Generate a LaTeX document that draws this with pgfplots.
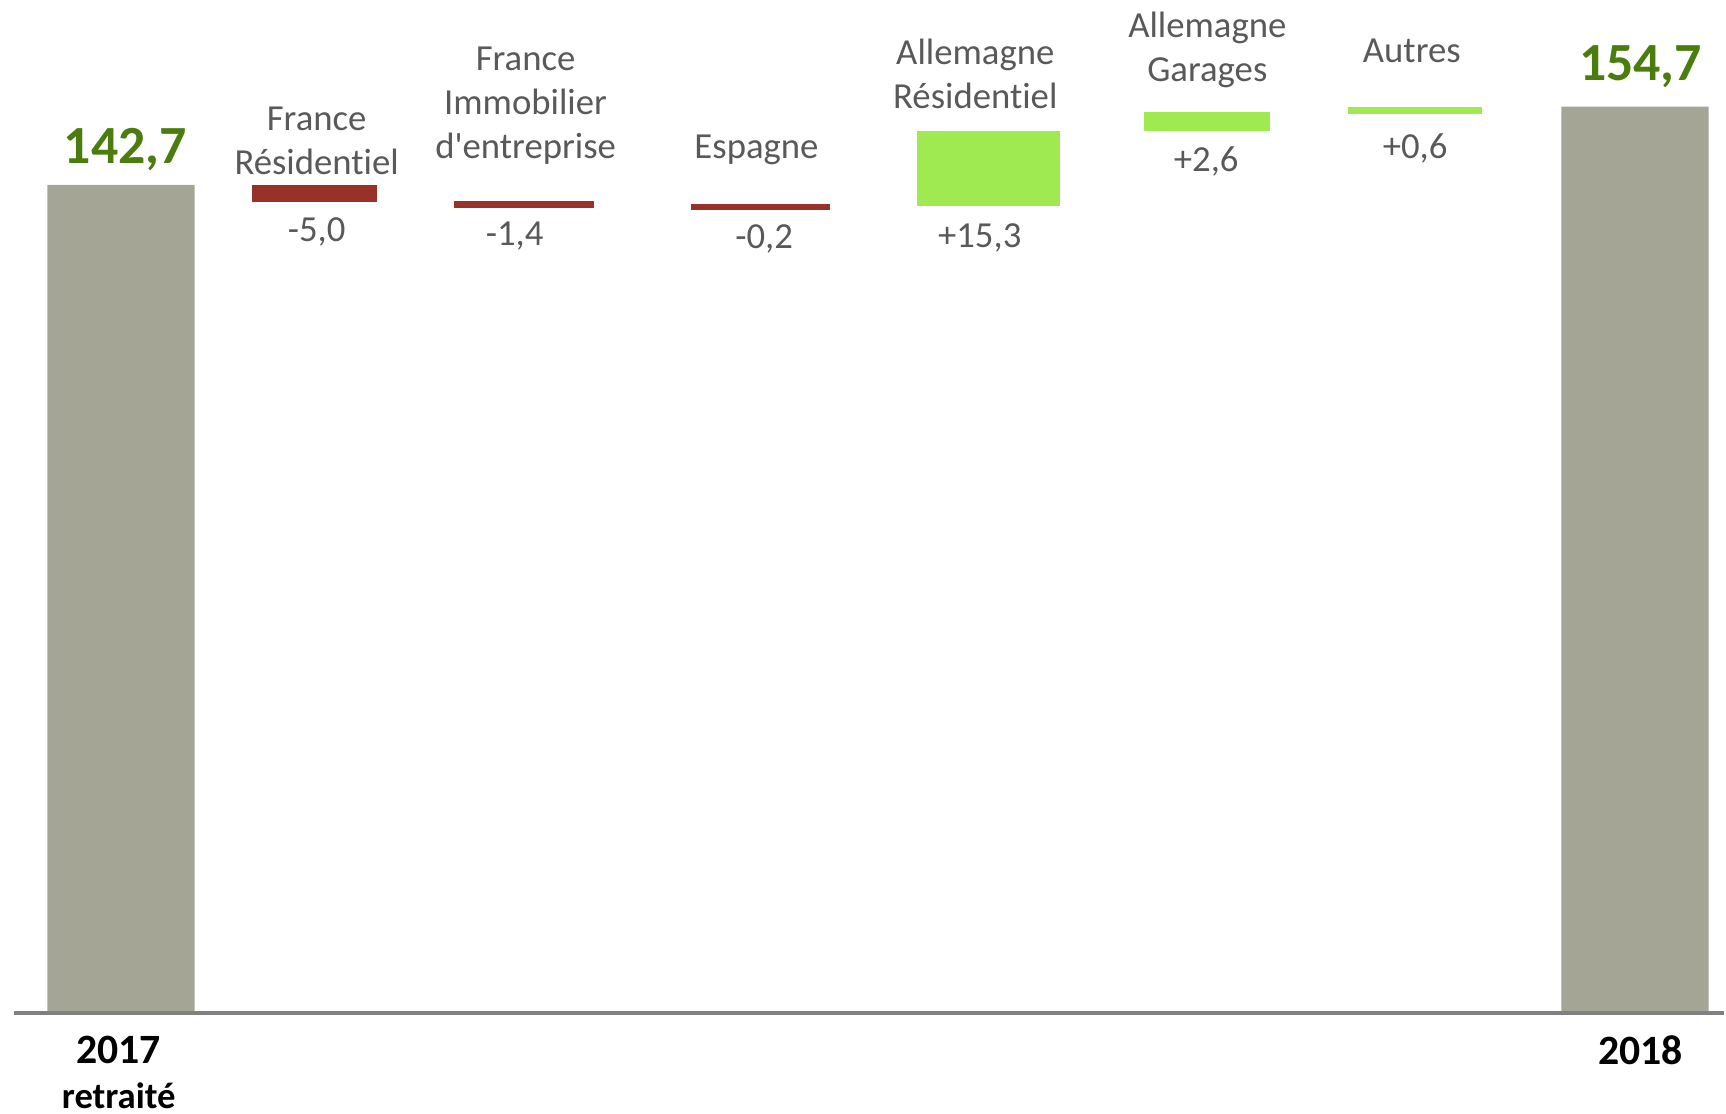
\documentclass[border=0pt]{standalone}
\usepackage{pgfplots}
\pgfplotsset{compat=1.18}
\usepackage{fontspec}
\setmainfont{Carlito}[Ligatures=NoCommon]
\definecolor{barGray}{HTML}{A5A595}
\definecolor{barRed}{HTML}{983129}
\definecolor{barGreen}{HTML}{9EEA50}
\definecolor{valGreen}{HTML}{4A7C0E}
\definecolor{txtGray}{HTML}{595959}
\definecolor{axGray}{HTML}{808080}
\newcommand\cat{\fontsize{9.5}{11.4}\selectfont}
\begin{document}
\begin{tikzpicture}[every node/.style={inner sep=0pt}]
\begin{axis}[
  width=15.68cm, height=9.21cm, scale only axis,
  xmin=0, xmax=15.68, ymin=15.5, ymax=171.1,
  axis lines=none, clip mode=individual,
]
\path (axis cs:0,0) rectangle (axis cs:15.68,171.1);
% totals
\addplot[ybar, bar width=1.34, bar shift=0pt, fill=barGray, draw=none]
  coordinates {(1.10,142.7) (14.87,154.7)};
% floating deltas (drawn at their position in the chart)
\addplot[fill=barRed, draw=none] coordinates {(2.29,140.0) (3.43,140.0) (3.43,142.7) (2.29,142.7)} -- cycle;
\addplot[fill=barRed, draw=none] coordinates {(4.13,139.2) (5.40,139.2) (5.40,140.2) (4.13,140.2)} -- cycle;
\addplot[fill=barRed, draw=none] coordinates {(6.28,138.8) (7.55,138.8) (7.55,139.8) (6.28,139.8)} -- cycle;
\addplot[fill=barGreen, draw=none] coordinates {(8.34,139.5) (9.64,139.5) (9.64,151.0) (8.34,151.0)} -- cycle;
\addplot[fill=barGreen, draw=none] coordinates {(10.40,150.9) (11.55,150.9) (11.55,153.9) (10.40,153.9)} -- cycle;
\addplot[fill=barGreen, draw=none] coordinates {(12.26,153.6) (13.48,153.6) (13.48,154.6) (12.26,154.6)} -- cycle;
% baseline
\draw[axGray, line width=1pt] (axis cs:0.13,15.5) -- (axis cs:15.68,15.5);
% total labels
\node[valGreen, font=\fontsize{13.9}{16}\selectfont\bfseries] at (axis cs:1.14,148.1) {142,7};
\node[valGreen, font=\fontsize{13.9}{16}\selectfont\bfseries] at (axis cs:14.92,160.8) {154,7};
% category labels
\node[txtGray, align=center, font=\cat] at (axis cs:2.88,149.5) {France\\Résidentiel};
\node[txtGray, align=center, font=\cat] at (axis cs:4.78,154.9) {France\\Immobilier\\d\textquotesingle entreprise};
\node[txtGray, align=center, font=\cat] at (axis cs:6.88,148.1) {Espagne};
\node[txtGray, align=center, font=\cat] at (axis cs:8.87,159.8) {Allemagne\\Résidentiel};
\node[txtGray, align=center, font=\cat] at (axis cs:10.98,163.4) {Allemagne\\Garages};
\node[txtGray, align=center, font=\cat] at (axis cs:12.84,163.3) {Autres};
% delta labels
\node[txtGray, font=\cat] at (axis cs:2.88,135.4) {-5,0};
\node[txtGray, font=\cat] at (axis cs:4.68,134.8) {-1,4};
\node[txtGray, font=\cat] at (axis cs:6.95,134.4) {-0,2};
\node[txtGray, font=\cat] at (axis cs:8.91,134.6) {+15,3};
\node[txtGray, font=\cat] at (axis cs:10.97,146.3) {+2,6};
\node[txtGray, font=\cat] at (axis cs:12.87,148.3) {+0,6};
% year labels
\node[black, font=\fontsize{10.8}{13}\selectfont\bfseries] at (axis cs:1.08,9.8) {2017};
\node[black, font=\fontsize{9.5}{11}\selectfont\bfseries] at (axis cs:1.08,2.8) {retraité};
\node[black, font=\fontsize{10.8}{13}\selectfont\bfseries] at (axis cs:14.92,9.8) {2018};
\end{axis}
\end{tikzpicture}
\end{document}
